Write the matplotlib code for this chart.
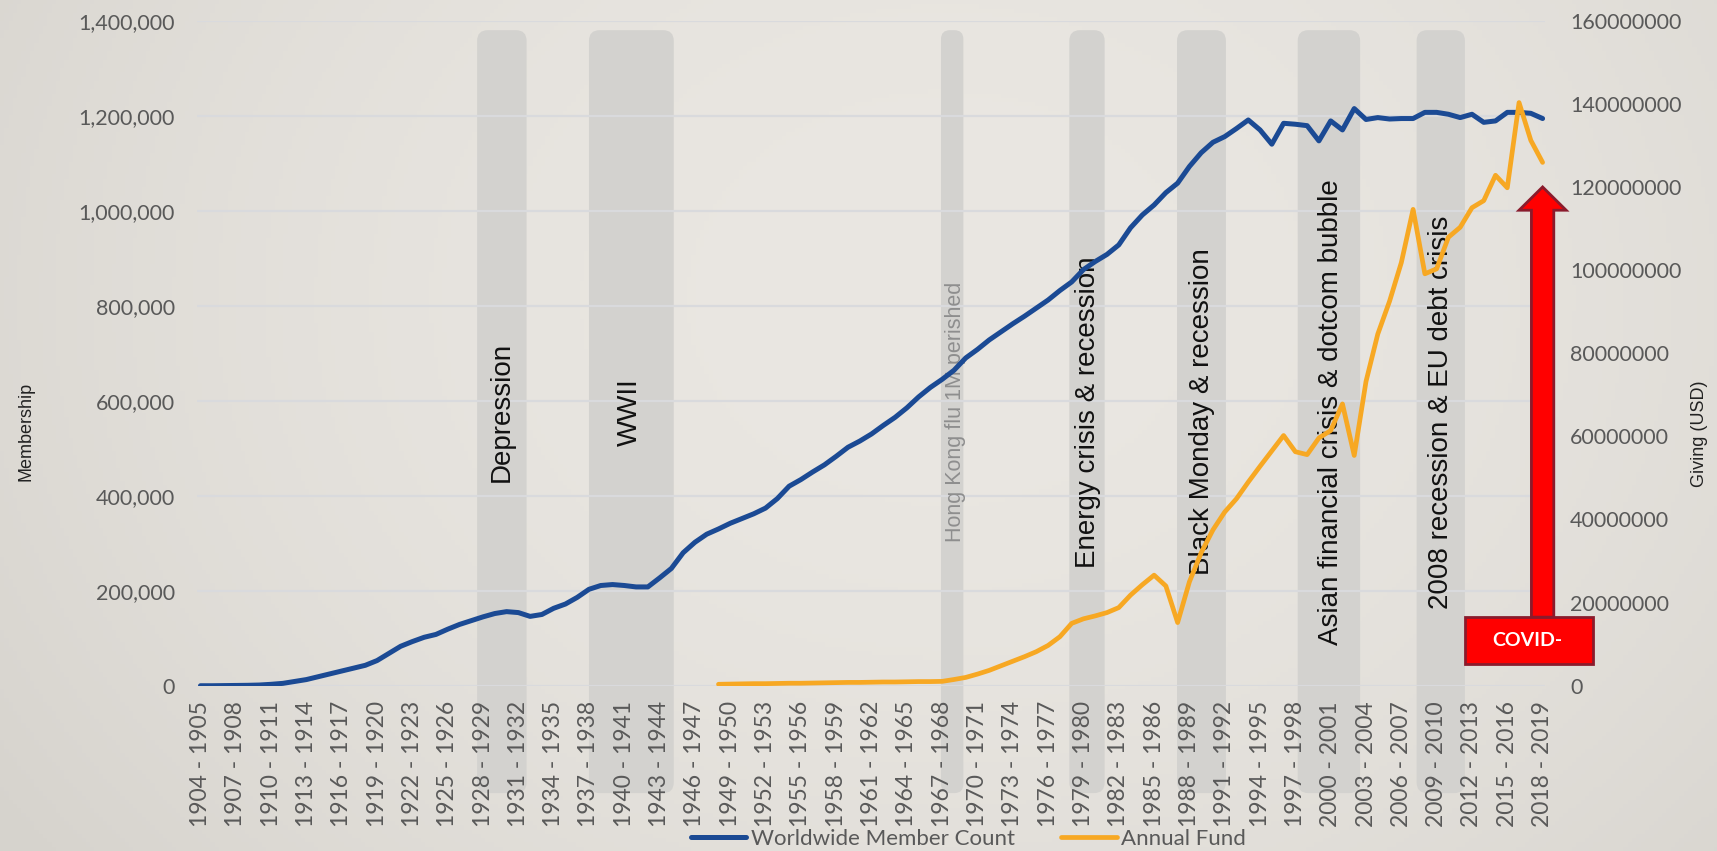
import numpy as np
import matplotlib.pyplot as plt
from matplotlib.patches import FancyBboxPatch, Polygon, Rectangle

# Fiscal years 1904-1905 ... 2018-2019
years = list(range(1904, 2019))
year_labels = [f'{y} - {y + 1}' for y in years]

# Worldwide member count (left axis)
members = [
    0, 0, 300, 600, 900, 1500, 3000, 5000, 9000, 13000,
    19000, 25000, 31000, 37000, 43000, 53000, 68000, 83000, 93000, 102000,
    108000, 119000, 129000, 137000, 145000, 152000, 156000, 154000, 146000, 150000,
    163000, 172000, 186000, 203000, 211000, 213000, 211000, 208000, 208000, 227000,
    247000, 280000, 302000, 319000, 330000, 342000, 352000, 362000, 374000, 394000,
    420000, 434000, 450000, 465000, 483000, 502000, 515000, 530000, 548000, 565000,
    585000, 608000, 628000, 645000, 664000, 690000, 708000, 728000, 745000, 762000,
    778000, 795000, 812000, 832000, 850000, 876000, 893000, 908000, 928000, 964000,
    991000, 1012000, 1038000, 1058000, 1093000, 1122000, 1144000, 1156000, 1173000, 1191000,
    1170000, 1140000, 1184000, 1182000, 1179000, 1147000, 1189000, 1170000, 1215000, 1192000,
    1196000, 1193000, 1194000, 1194000, 1207000, 1207000, 1203000, 1196000, 1203000, 1186000,
    1189000, 1207000, 1207000, 1205000, 1194000,
]

# Annual Fund giving in million USD (right axis), starts 1948-1949
fund_musd = [np.nan] * 44 + [
    0.35, 0.4, 0.45, 0.5, 0.5, 0.55, 0.6, 0.6, 0.65, 0.7,
    0.75, 0.8, 0.8, 0.85, 0.9, 0.9, 0.95, 1.0, 1.0, 1.05,
    1.5, 2.0, 2.8, 3.7, 4.8, 5.9, 7.0, 8.2, 9.7, 11.8,
    15.0, 16.1, 16.8, 17.6, 18.8, 21.8, 24.3, 26.6, 24.0, 15.2,
    25.0, 32.0, 37.5, 41.8, 45.0, 49.0, 52.8, 56.5, 60.2, 56.3,
    55.6, 59.6, 61.4, 67.8, 55.4, 73.2, 84.6, 92.5, 101.8, 114.6,
    99.1, 100.3, 107.9, 110.3, 115.0, 116.7, 122.8, 119.8, 140.3, 131.2,
    125.9,
]
fund = np.array(fund_musd) * 1e6

# crisis periods (category index span) and labels
events = ['Depression', 'WWII', 'Hong Kong flu 1M perished', 'Energy crisis & recession',
          'Black Monday & recession', 'Asian financial crisis & dotcom bubble',
          '2008 recession & EU debt crisis']
event_start = [23.5, 33.0, 62.9, 73.8, 82.95, 93.2, 103.3]
event_end = [27.7, 40.2, 64.8, 76.8, 87.1, 98.5, 107.4]
event_text_x = [25.6, 36.5, 64.1, 75.4, 85.1, 96.0, 105.4]

x = np.arange(len(years))

fig = plt.figure(figsize=(17.17, 8.51), dpi=100)

# soft background
bg = fig.add_axes([0, 0, 1, 1], zorder=-10)
gx, gy = np.meshgrid(np.linspace(0, 1, 400), np.linspace(0, 1, 200))
t = 1 - ((gx - 0.55) ** 2 / 0.45 + (gy - 0.35) ** 2 / 1.2)
t = np.clip(t, 0, 1)[..., None]
dark = np.array([214, 211, 205]) / 255
light = np.array([234, 231, 226]) / 255
bg.imshow(dark + (light - dark) * t, aspect='auto', extent=[0, 1, 0, 1])
bg.axis('off')

ax = fig.add_axes([0.1147, 0.1942, 0.7851, 0.7815])
ax.set_facecolor('none')
ax2 = ax.twinx()

blue = '#1b4a94'
orange = '#f7a823'
tick_color = '#595959'

ax.set_xlim(-0.3, 114.2)
ax.set_ylim(0, 1400000)
ax2.set_ylim(0, 160000000)

# shaded periods
px_x = 11.77
px_y = 2105
for s, e in zip(event_start, event_end):
    r = min(0.9, (e - s) / 2.5)
    band = FancyBboxPatch((s, -226000), e - s, 1380000 + 226000,
                          boxstyle=f'round,pad=0,rounding_size={r}',
                          mutation_aspect=px_x * px_y,
                          facecolor='#d3d2cf', edgecolor='none',
                          zorder=0.2, clip_on=False)
    ax.add_patch(band)

ax.set_axisbelow(True)
ax.yaxis.grid(True, color='#d9dadd', linewidth=1.6)
ax.xaxis.grid(False)

ln1, = ax.plot(x, members, color=blue, linewidth=3.6, solid_capstyle='round',
               label='Worldwide Member Count', zorder=3)
ln2, = ax2.plot(x, fund, color=orange, linewidth=3.4, solid_capstyle='round',
                label='Annual Fund', zorder=3)

for name, tx in zip(events, event_text_x):
    if name.startswith('Hong'):
        ax.text(tx, 576000, name, rotation=90, ha='center', va='center',
                fontsize=15.5, color='#8e8e8e', family='Liberation Sans', zorder=2)
    else:
        ax.text(tx, 576000, name, rotation=90, ha='center', va='center',
                fontsize=20, color='#111111', family='Liberation Sans', zorder=2)

# ticks
ax.set_xticks(x[::3])
ax.set_xticklabels(year_labels[::3], rotation=90)
ax.set_yticks(np.arange(0, 1400001, 200000))
ax.set_yticklabels([f'{v:,.0f}' for v in np.arange(0, 1400001, 200000)])
ax2.set_yticks(np.arange(0, 160000001, 20000000))
ax2.set_yticklabels([f'{v:.0f}' for v in np.arange(0, 160000001, 20000000)])

ax.tick_params(axis='x', length=0, pad=11, labelsize=16.5, labelcolor=tick_color)
ax.tick_params(axis='y', length=0, pad=16, labelsize=15.5, labelcolor=tick_color)
ax2.tick_params(axis='y', length=0, pad=18, labelsize=15.5, labelcolor=tick_color)
for lab in ax.get_xticklabels() + ax.get_yticklabels() + ax2.get_yticklabels():
    lab.set_family('Lato')

for a in (ax, ax2):
    for sp in a.spines.values():
        sp.set_visible(False)

fig.text(0.0151, 0.493, 'Membership', rotation=90, ha='center', va='center',
         fontsize=13, family='Liberation Sans', color='#222222')
fig.text(0.990, 0.490, 'Giving (USD)', rotation=90, ha='center', va='center',
         fontsize=13, family='Liberation Sans', color='#222222')

# COVID arrow
cx = 114
arrow = Polygon([(cx - 0.95, 16.5e6), (cx - 0.95, 114.4e6), (cx - 2.0, 114.4e6),
                 (cx, 120e6), (cx + 2.0, 114.4e6), (cx + 0.95, 114.4e6),
                 (cx + 0.95, 16.5e6)], closed=True, facecolor='#ff0000',
                edgecolor='#8a1b2c', linewidth=2, zorder=10, clip_on=False)
ax2.add_patch(arrow)
box = Rectangle((107.4, 5.2e6), 10.9, 11.3e6, facecolor='#ff0000',
                edgecolor='#8a1b2c', linewidth=2, zorder=11, clip_on=False)
ax2.add_patch(box)
ax2.text(112.7, 10.8e6, 'COVID-', ha='center', va='center', color='white',
         fontsize=14, fontweight='bold', family='Lato', zorder=12)

leg = fig.legend(handles=[ln1, ln2], loc='center', bbox_to_anchor=(0.564, 0.014),
                 ncol=2, frameon=False, handlelength=2.5, handletextpad=0.2,
                 columnspacing=2.1, prop={'family': 'Lato', 'size': 16})
for txt in leg.get_texts():
    txt.set_color(tick_color)

fig.savefig('out.png', dpi=100)
